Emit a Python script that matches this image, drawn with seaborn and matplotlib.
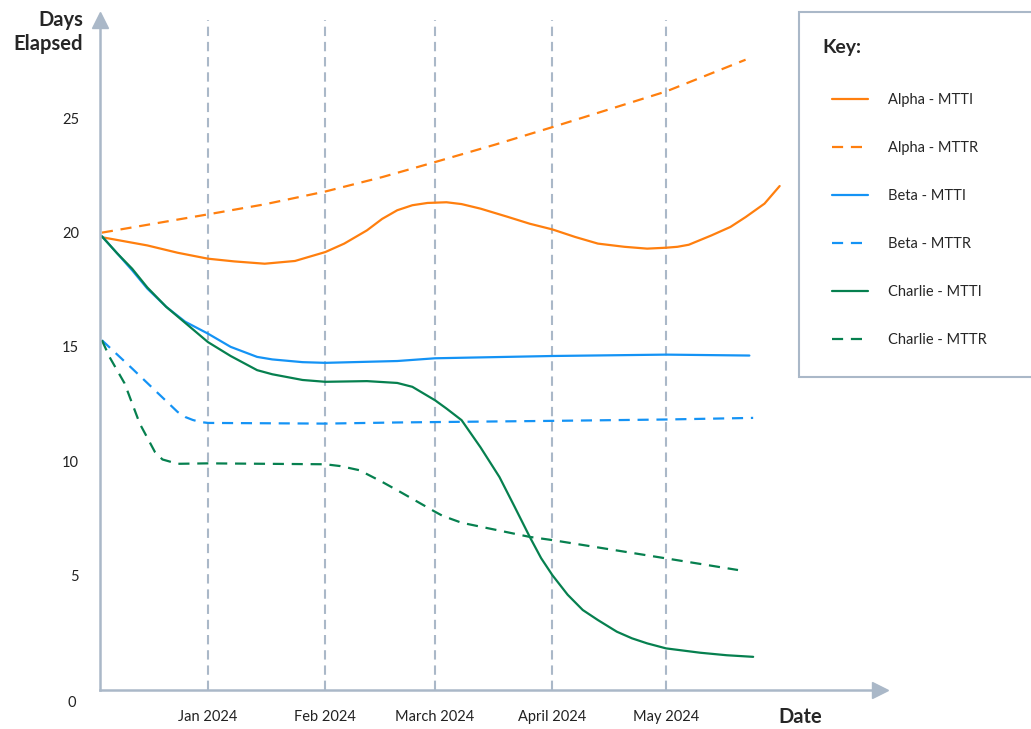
import matplotlib
matplotlib.use("Agg")
import matplotlib.pyplot as plt
import matplotlib.patches as mpatches
import seaborn as sns
import pandas as pd

## values
alpha_mtti_dates = ["2023-12-04", "2023-12-16", "2023-12-24", "2024-01-01", "2024-01-08",
                    "2024-01-16", "2024-01-24", "2024-02-01", "2024-02-06", "2024-02-12",
                    "2024-02-16", "2024-02-20", "2024-02-24", "2024-02-28", "2024-03-04",
                    "2024-03-08", "2024-03-13", "2024-03-20", "2024-03-26", "2024-04-01",
                    "2024-04-07", "2024-04-13", "2024-04-20", "2024-04-26", "2024-05-01",
                    "2024-05-04", "2024-05-07", "2024-05-13", "2024-05-18", "2024-05-22",
                    "2024-05-27", "2024-05-31"]
alpha_mtti = [19.8, 19.44, 19.12, 18.86, 18.74, 18.64, 18.76, 19.15, 19.52, 20.1,
              20.6, 20.98, 21.2, 21.3, 21.33, 21.25, 21.05, 20.7, 20.39, 20.14,
              19.81, 19.52, 19.38, 19.3, 19.34, 19.38, 19.47, 19.88, 20.25, 20.68,
              21.27, 22.04]

alpha_mttr_dates = ["2023-12-04", "2024-01-01", "2024-01-16", "2024-02-01", "2024-02-16",
                    "2024-03-01", "2024-03-17", "2024-04-01", "2024-05-01", "2024-05-22"]
alpha_mttr = [20.0, 20.8, 21.24, 21.8, 22.43, 23.09, 23.86, 24.62, 26.18, 27.57]

beta_mtti_dates = ["2023-12-04", "2023-12-08", "2023-12-12", "2023-12-16", "2023-12-21",
                   "2023-12-26", "2024-01-01", "2024-01-07", "2024-01-14", "2024-01-18",
                   "2024-01-26", "2024-02-01", "2024-02-20", "2024-03-01", "2024-04-01",
                   "2024-05-01", "2024-05-23"]
beta_mtti = [19.84, 19.1, 18.35, 17.55, 16.75, 16.1, 15.58, 15.0, 14.56, 14.45,
             14.33, 14.3, 14.38, 14.5, 14.6, 14.66, 14.62]

beta_mttr_dates = ["2023-12-04", "2023-12-12", "2023-12-18", "2023-12-24", "2023-12-26",
                   "2023-12-28", "2023-12-30", "2024-01-01", "2024-02-01", "2024-02-20",
                   "2024-04-01", "2024-05-01", "2024-05-24"]
beta_mttr = [15.29, 14.05, 13.1, 12.15, 11.93, 11.8, 11.71, 11.67, 11.64, 11.69,
             11.76, 11.82, 11.89]

charlie_mtti_dates = ["2023-12-04", "2023-12-08", "2023-12-12", "2023-12-16", "2023-12-21",
                      "2024-01-01", "2024-01-07", "2024-01-14", "2024-01-18", "2024-01-26",
                      "2024-02-01", "2024-02-12", "2024-02-20", "2024-02-24", "2024-03-01",
                      "2024-03-04", "2024-03-08", "2024-03-13", "2024-03-18", "2024-03-22",
                      "2024-03-26", "2024-03-29", "2024-04-01", "2024-04-05", "2024-04-09",
                      "2024-04-13", "2024-04-18", "2024-04-22", "2024-04-26", "2024-05-01",
                      "2024-05-10", "2024-05-17", "2024-05-24"]
charlie_mtti = [19.84, 19.1, 18.42, 17.6, 16.75, 15.21, 14.6, 13.98, 13.8, 13.55,
                13.47, 13.5, 13.42, 13.25, 12.66, 12.3, 11.79, 10.6, 9.3, 8.0,
                6.68, 5.75, 5.0, 4.15, 3.48, 3.04, 2.53, 2.24, 2.02, 1.8,
                1.61, 1.5, 1.43]

charlie_mttr_dates = ["2023-12-04", "2023-12-06", "2023-12-10", "2023-12-14", "2023-12-18",
                      "2023-12-20", "2023-12-24", "2024-01-01", "2024-02-01", "2024-02-05",
                      "2024-02-10", "2024-02-16", "2024-02-21", "2024-03-01", "2024-03-03",
                      "2024-03-08", "2024-03-26", "2024-04-01", "2024-05-01", "2024-05-20"]
charlie_mttr = [15.29, 14.56, 13.4, 11.64, 10.4, 10.07, 9.88, 9.9, 9.86, 9.78,
                9.6, 9.09, 8.63, 7.78, 7.6, 7.3, 6.68, 6.54, 5.74, 5.23]

tick_dates = ["2024-01-01", "2024-02-01", "2024-03-01", "2024-04-01", "2024-05-01"]
tick_labels = ["Jan 2024", "Feb 2024", "March 2024", "April 2024", "May 2024"]
y_ticks = [5, 10, 15, 20, 25]

ORANGE = "#FF7F0E"
BLUE = "#1493F5"
GREEN = "#06804F"
SLATE = "#AAB8C8"
TXT = "#222222"

sns.set_style("white")
plt.rcParams['font.family'] = ['Lato', 'DejaVu Sans']

fig = plt.figure(figsize=(10.31, 7.29), dpi=100)
ax = fig.add_axes([100/1031, 39.5/729, 780/1031, 670/729])

dash = (0, (5, 3.5))
series = [
    ("Alpha - MTTI", alpha_mtti_dates, alpha_mtti, ORANGE, "-"),
    ("Alpha - MTTR", alpha_mttr_dates, alpha_mttr, ORANGE, dash),
    ("Beta - MTTI", beta_mtti_dates, beta_mtti, BLUE, "-"),
    ("Beta - MTTR", beta_mttr_dates, beta_mttr, BLUE, dash),
    ("Charlie - MTTI", charlie_mtti_dates, charlie_mtti, GREEN, "-"),
    ("Charlie - MTTR", charlie_mttr_dates, charlie_mttr, GREEN, dash),
]
for label, dates, vals, col, ls in series:
    sns.lineplot(x=pd.to_datetime(dates), y=vals, color=col, linestyle=ls,
                 linewidth=1.6, label=label, ax=ax, legend=False)

ax.set_xlim(pd.Timestamp("2023-12-03 12:00"), pd.Timestamp("2024-06-26 12:00"))
ax.set_ylim(0, (689.5 - 19) / 22.86)

ax.set_xticks(pd.to_datetime(tick_dates))
ax.set_xticklabels(tick_labels)
ax.set_yticks(y_ticks)
ax.set_yticklabels([str(v) for v in y_ticks])
ax.tick_params(axis='x', length=9, width=1.5, color=SLATE, pad=6, labelsize=10.5, labelcolor=TXT)
ax.tick_params(axis='y', length=10, width=1.5, color=SLATE, pad=5, labelsize=10.5, labelcolor=TXT)
ax.xaxis.grid(True, color=SLATE, linewidth=1.5, linestyle=(0, (4.5, 2.8)))
ax.set_axisbelow(True)
ax.set_xlabel("")
ax.set_ylabel("")

for s in ["top", "right"]:
    ax.spines[s].set_visible(False)
for s in ["left", "bottom"]:
    ax.spines[s].set_color(SLATE)
    ax.spines[s].set_linewidth(1.8)

## arrow heads
ax.plot(0, 1, marker='^', ms=11, color=SLATE, transform=ax.transAxes, clip_on=False)
ax.plot(1, 0, marker='>', ms=11, color=SLATE, transform=ax.transAxes, clip_on=False)

fig.text(72/1031, 1 - 703/729, "0", ha='center', va='center', fontsize=10.5, color=TXT)
fig.text(83/1031, 1 - 32/729, "Days\nElapsed", ha='right', va='center', fontsize=14.5,
         fontweight='bold', linespacing=1.25)
fig.text(800/1031, 1 - 717/729, "Date", ha='center', va='center', fontsize=14.5, fontweight='bold')

## legend box running off the right edge
box = mpatches.Rectangle((799/1031, 1 - 377/729), 0.3, 365/729, transform=fig.transFigure,
                         facecolor='white', edgecolor=SLATE, linewidth=1.5, clip_on=False)
fig.add_artist(box)
fig.text(822/1031, 1 - 47/729, "Key:", ha='left', va='center', fontsize=14, fontweight='bold')

handles, labels = ax.get_legend_handles_labels()
leg = fig.legend(handles, labels, loc='upper left', bbox_to_anchor=(819/1031, 1 - 80/729),
                 frameon=False, fontsize=10.5,
                 handlelength=2.45, handletextpad=1.35, labelspacing=2.33)

fig.savefig("out.png", dpi=100)
